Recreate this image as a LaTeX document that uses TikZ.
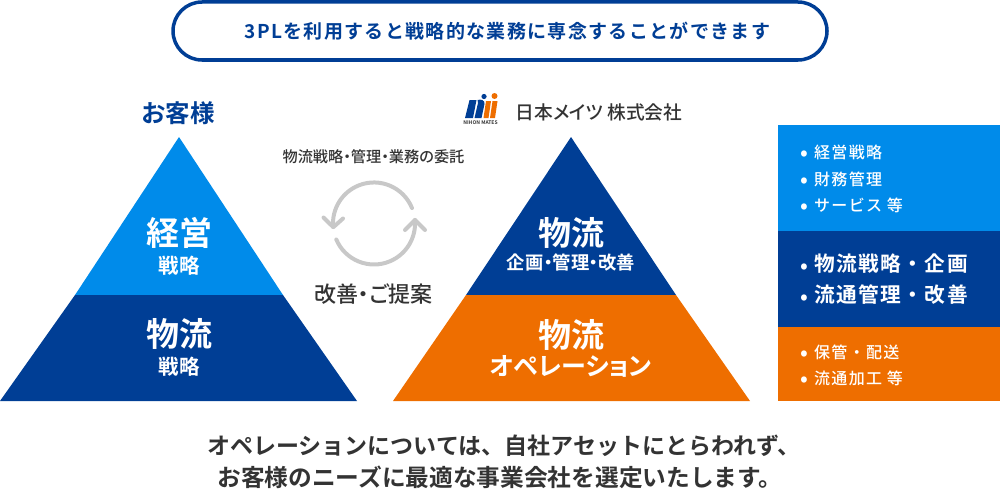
\documentclass[tikz,border=0pt]{standalone}
\usepackage{fontspec}
\setmainfont{Noto Sans CJK JP}[BoldFont={Noto Sans CJK JP Bold}]
\newfontfamily\jb{Noto Sans CJK JP Bold}
\newfontfamily\jbp{Noto Sans CJK JP Bold}[RawFeature={+palt}]
\newfontfamily\jm{Noto Sans CJK JP Medium}
\newfontfamily\jmp{Noto Sans CJK JP Medium}[RawFeature={+palt}]
\definecolor{navy}{HTML}{003E95}
\definecolor{sky}{HTML}{008BEA}
\definecolor{org}{HTML}{EE6E00}
\definecolor{ink}{HTML}{333333}
\definecolor{arrowgray}{HTML}{C8C8C8}
\tikzset{
 x=1pt,y=-1pt,
 lbl/.style={inner sep=0pt,anchor=center,text=#1},
 lbl/.default=white,
 cyc/.style={draw=arrowgray,line width=4pt,line cap=round,line join=round},
 list/.style={inner sep=0pt,anchor=base west,text=white,align=left}
}
\newcommand{\fs}[1]{\fontsize{#1pt}{#1pt}\selectfont}
\newcommand{\bul}{\makebox[14pt][l]{\smash{\raisebox{-2pt}{\jm\fs{22}•}}}}
\newcommand{\ls}[1]{\addfontfeature{LetterSpace=#1}}
\begin{document}
\begin{tikzpicture}
\useasboundingbox (0,0) rectangle (1000,495);
% banner
\draw[navy,line width=3.5pt,rounded corners=29pt,fill=white] (173,2) rectangle (827,60);
\node[lbl=navy] (banner) at (507.5,31) {\jb\fs{19}\ls{7}3PLを利用すると戦略的な業務に専念することができます};
% headings
\node[lbl=navy] (customer) at (178,113) {\jb\fs{24.5}お客様};
\node[lbl=ink] (company) at (599,112) {\jmp\fs{18.7}日本メイツ 株式会社};
% logo
\fill[navy] (469.5,100) -- (476.5,100) -- (473,118) -- (465,118) -- cycle;
\fill[navy] (477.5,100) .. controls (481,99) and (485,100) .. (484.5,104) -- (481.5,118) -- (474.5,118) -- (478,103) -- cycle;
\fill[org] (486,101) -- (491,101) -- (488.5,118) -- (483.5,118) -- cycle;
\fill[org] (492.5,101) -- (497.5,101) -- (495,118) -- (490,118) -- cycle;
\fill[navy] (484,96.5) circle (2.6);
\fill[org] (494.5,96) circle (3);
\node[lbl=ink] (mates) at (480.5,123) {\jb\fs{5}NIHON MATES};
% left pyramid
\fill[sky] (179,137) -- (283,295) -- (75,295) -- cycle;
\fill[navy] (75,295) -- (283,295) -- (357,401) -- (0,401) -- cycle;
\node[lbl] (a1) at (179,233) {\jb\fs{33}経営};
\node[lbl] (a2) at (179,266) {\jb\fs{20.5}戦略};
\node[lbl] (a3) at (179,334) {\jb\fs{33}物流};
\node[lbl] (a4) at (179,367) {\jb\fs{20.5}戦略};
% right pyramid
\fill[navy] (571,137) -- (676,295) -- (466,295) -- cycle;
\fill[org] (466,295) -- (676,295) -- (750,401) -- (393,401) -- cycle;
\node[lbl] (b1) at (571,233) {\jb\fs{33}物流};
\node[lbl] (b2) at (571,263) {\jbp\fs{18.3}企画・管理・改善};
\node[lbl] (b3) at (571,335) {\jb\fs{33}物流};
\node[lbl] (b4) at (571,366) {\jbp\fs{25}オペレーション};
% middle
\node[lbl=ink] (c1) at (373.5,157) {\jmp\fs{15.2}物流戦略・管理・業務の委託};
\node[lbl=ink] (c2) at (373.5,294) {\jmp\fs{22}改善・ご提案};
\draw[cyc] (412,208.1) arc[start angle=22,end angle=185,radius=41pt];
\draw[cyc] (323.5,217.5) -- (333.3,227.2) -- (343,218.5);
\draw[cyc] (336.3,239.5) arc[start angle=203,end angle=365,radius=41pt];
\draw[cyc] (405,230) -- (415,220) -- (425,230);
% side boxes
\fill[sky] (778,125) rectangle (1000,231);
\fill[navy] (778,231) rectangle (1000,327);
\fill[org] (778,327) rectangle (1000,401);
\node[list] (d1) at (800,158) {\bul\jm\fs{16}\ls{8}経営戦略};
\node[list] (d2) at (800,185) {\bul\jm\fs{16}\ls{8}財務管理};
\node[list] (d3) at (800,211) {\bul\jm\fs{16}\ls{8}サービス 等};
\node[list] (e1) at (800,271) {\bul\jb\fs{20.7}\ls{7}物流戦略・企画};
\node[list] (e2) at (800,302) {\bul\jb\fs{20.7}\ls{7}流通管理・改善};
\node[list] (f1) at (800,358) {\bul\jm\fs{16}\ls{8}保管・配送};
\node[list] (f2) at (800,384) {\bul\jm\fs{16}\ls{8}流通加工 等};
% footer
\node[lbl=ink] (g1) at (504,446) {\jb\fs{23}オペレーションについては、自社アセットにとらわれず、};
\node[lbl=ink] (g2) at (500,477) {\jb\fs{23.7}お客様のニーズに最適な事業会社を選定いたします。};
\end{tikzpicture}
\end{document}
